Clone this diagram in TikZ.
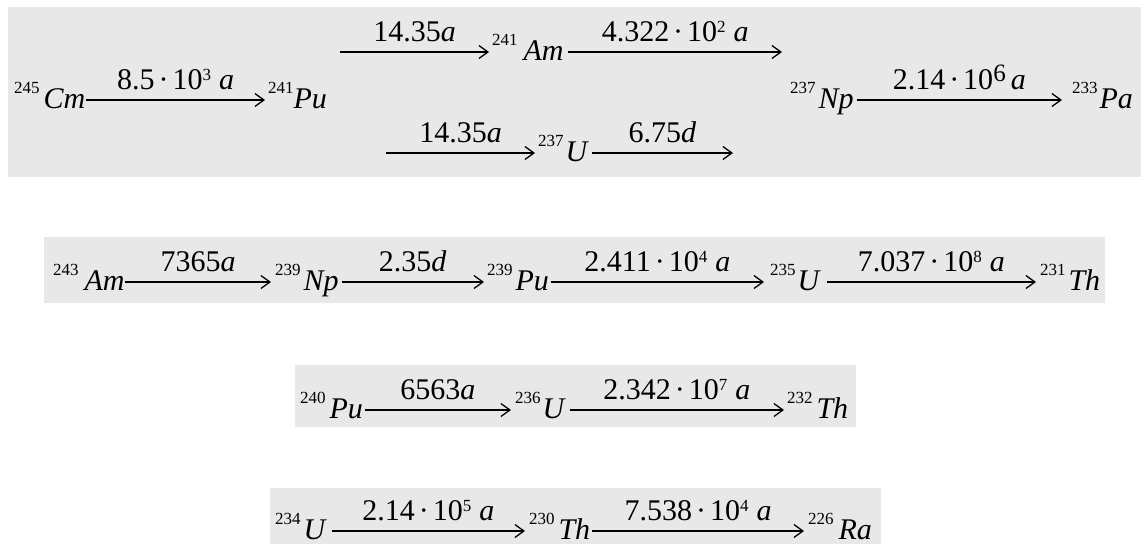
\documentclass[tikz,border=0pt]{standalone}
\usepackage{fontspec}
\setmainfont{Liberation Serif}
\usetikzlibrary{arrows.meta,calc}
\definecolor{panelgrey}{RGB}{232,232,232}
\newcommand{\sq}[3]{\raisebox{15pt}{\fontsize{17}{17}\selectfont #1}\kern#2pt\textit{#3}}
\newcommand{\expo}[1]{\raisebox{9pt}{\fontsize{17}{17}\selectfont #1}}
\newcommand{\bexpo}[1]{\raisebox{8pt}{\fontsize{25}{25}\selectfont #1}}
\newcommand{\cdt}{\kern4pt·\kern4pt}
\begin{document}
\begin{tikzpicture}[x=1pt,y=1pt,
  species/.style={anchor=base west,inner sep=0pt,outer sep=0pt,font=\fontsize{30}{30}\selectfont},
  lab/.style={anchor=base,inner sep=0pt,outer sep=0pt,yshift=11pt,font=\fontsize{30}{30}\selectfont},
  arr/.style={line width=1.3pt,-{Straight Barb[length=9pt,width=13pt,line width=1.3pt]}},
  panel/.style={fill=panelgrey,draw=none}]
\useasboundingbox (0,0) rectangle (1141,-544);
\fill[panel] (8,-7) rectangle (1141,-177);
\fill[panel] (44,-237) rectangle (1105,-303);
\fill[panel] (295,-365) rectangle (856,-427);
\fill[panel] (270,-488) rectangle (881,-544);
% box 1, top line
\coordinate (t0) at (340,-52);
\node[species] (am241) at (492,-60) {\sq{241}{6}{Am}};
\coordinate (t1) at (782,-52);
\draw[arr] (t0) -- ($(am241.base west)+(-3,8)$) node[lab,midway] (l1) {14.35\textit{a}};
\draw[arr] ($(am241.base east)+(5,8)$) -- (t1) node[lab,midway] (l2) {4.322\cdt10\expo{2}\kern8pt\textit{a}};
% box 1, middle line
\node[species] (cm245) at (14,-108) {\sq{245}{4}{Cm}};
\node[species] (pu241) at (268,-108) {\sq{241}{0}{Pu}};
\node[species] (np237) at (790,-108) {\sq{237}{3}{Np}};
\node[species] (pa233) at (1072,-108) {\sq{233}{2}{Pa}};
\draw[arr] ($(cm245.base east)+(1,8)$) -- ($(pu241.base west)+(-3,8)$) node[lab,midway] (l3) {8.5\cdt10\expo{3}\kern8pt\textit{a}};
\draw[arr] ($(np237.base east)+(3,8)$) -- ($(pa233.base west)+(-10,8)$) node[lab,midway] (l4) {2.14\cdt10\bexpo{6}\kern5pt\textit{a}};
% box 1, lower line
\coordinate (b0) at (386,-153);
\node[species] (u237) at (538,-161) {\sq{237}{2}{U}};
\coordinate (b1) at (733,-153);
\draw[arr] (b0) -- ($(u237.base west)+(-3,8)$) node[lab,midway] (l5) {14.35\textit{a}};
\draw[arr] ($(u237.base east)+(3,8)$) -- (b1) node[lab,midway] (l6) {6.75\textit{d}};
% box 2
\node[species] (am243) at (53,-290) {\sq{243}{6}{Am}};
\node[species] (np239) at (275,-290) {\sq{239}{3}{Np}};
\node[species] (pu239) at (487,-290) {\sq{239}{3}{Pu}};
\node[species] (u235) at (770,-290) {\sq{235}{2}{U}};
\node[species] (th231) at (1040,-290) {\sq{231}{3}{Th}};
\draw[arr] ($(am243.base east)+(1,8)$) -- ($(np239.base west)+(-4,8)$) node[lab,midway] (l7) {7365\textit{a}};
\draw[arr] ($(np239.base east)+(3,8)$) -- ($(pu239.base west)+(-3,8)$) node[lab,midway] (l8) {2.35\textit{d}};
\draw[arr] ($(pu239.base east)+(2,8)$) -- ($(u235.base west)+(-6,8)$) node[lab,midway] (l9) {2.411\cdt10\expo{4}\kern8pt\textit{a}};
\draw[arr] ($(u235.base east)+(6,8)$) -- ($(th231.base west)+(-4,8)$) node[lab,midway] (l10) {7.037\cdt10\expo{8}\kern8pt\textit{a}};
% box 3
\node[species] (pu240) at (300,-418) {\sq{240}{4}{Pu}};
\node[species] (u236) at (515,-418) {\sq{236}{2}{U}};
\node[species] (th232) at (787,-418) {\sq{232}{4}{Th}};
\draw[arr] ($(pu240.base east)+(2,8)$) -- ($(u236.base west)+(-4,8)$) node[lab,midway] (l11) {6563\textit{a}};
\draw[arr] ($(u236.base east)+(4,8)$) -- ($(th232.base west)+(-3,8)$) node[lab,midway] (l12) {2.342\cdt10\expo{7}\kern8pt\textit{a}};
% box 4
\node[species] (u234) at (275,-539) {\sq{234}{3}{U}};
\node[species] (th230) at (529,-539) {\sq{230}{4}{Th}};
\node[species] (ra226) at (808,-539) {\sq{226}{5}{Ra}};
\draw[arr] ($(u234.base east)+(5,8)$) -- ($(th230.base west)+(-4,8)$) node[lab,midway] (l13) {2.14\cdt10\expo{5}\kern8pt\textit{a}};
\draw[arr] ($(th230.base east)+(2,8)$) -- ($(ra226.base west)+(-4,8)$) node[lab,midway] (l14) {7.538\cdt10\expo{4}\kern8pt\textit{a}};
\end{tikzpicture}
\end{document}
